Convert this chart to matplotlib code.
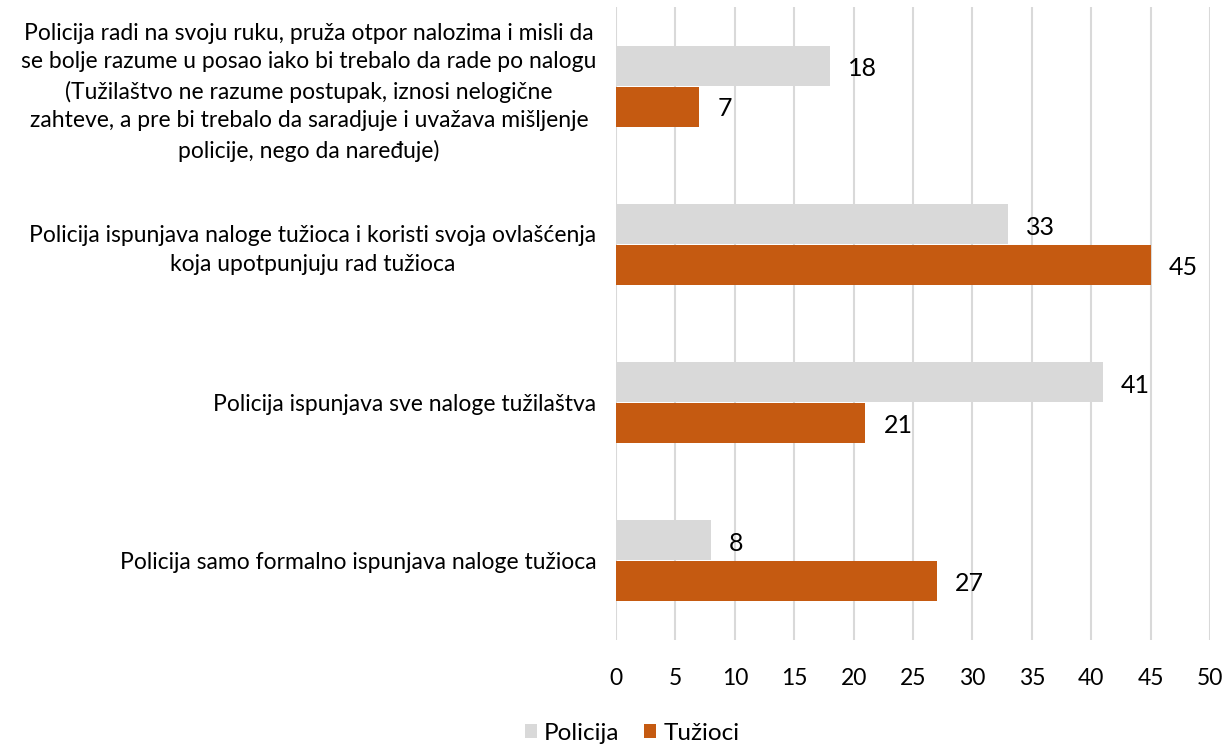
import numpy as np
import matplotlib.pyplot as plt

plt.rcParams['font.family'] = ['Lato', 'DejaVu Sans']

categories = [
    "Policija radi na svoju ruku, pruža otpor nalozima i misli da\n"
    "se bolje razume u posao iako bi trebalo da rade po nalogu\n"
    "(Tužilaštvo ne razume postupak, iznosi nelogične\n"
    "zahteve, a pre bi trebalo da saradjuje i uvažava mišljenje\n"
    "policije, nego da naređuje)",
    "Policija ispunjava naloge tužioca i koristi svoja ovlašćenja\n"
    "koja upotpunjuju rad tužioca",
    "Policija ispunjava sve naloge tužilaštva",
    "Policija samo formalno ispunjava naloge tužioca",
]
policija = [18, 33, 41, 8]
tuzioci = [7, 45, 21, 27]
series_names = ["Policija", "Tužioci"]
xticks = list(range(0, 55, 5))

gray = "#D9D9D9"
orange = "#C55A11"

fig = plt.figure(figsize=(12.28, 7.45), dpi=100)
ax = fig.add_axes([616 / 1228, 105 / 745, 594 / 1228, 633 / 745])

y = np.arange(len(categories))
h = 0.253
ax.barh(y - h / 2 - 0.003, policija, height=h, color=gray, label=series_names[0], zorder=3)
ax.barh(y + h / 2 + 0.003, tuzioci, height=h, color=orange, label=series_names[1], zorder=3)

for yi, v in zip(y - h / 2, policija):
    ax.annotate(str(v), (v, yi), xytext=(13, -2), textcoords='offset points',
                va='center', ha='left', fontsize=18)
for yi, v in zip(y + h / 2, tuzioci):
    ax.annotate(str(v), (v, yi), xytext=(13, -2), textcoords='offset points',
                va='center', ha='left', fontsize=18)

ax.set_xlim(0, 50)
ax.set_ylim(len(categories) - 0.5, -0.5)
ax.set_xticks(xticks)
ax.set_xticklabels([str(t) for t in xticks], fontsize=16.5)
ax.set_yticks(y)
ax.set_yticklabels(categories, fontsize=16.5, multialignment='center',
                   linespacing=1.45)
ax.tick_params(axis='both', length=0)
ax.tick_params(axis='x', pad=20)
ax.tick_params(axis='y', pad=14)
ax.grid(axis='x', color=gray, linewidth=1.5, zorder=0)
for s in ax.spines.values():
    s.set_visible(False)

fig.legend(loc='center', bbox_to_anchor=(632 / 1228, 1 - 733 / 745), ncol=2,
           frameon=False, fontsize=17.5, handlelength=0.5, handleheight=0.5,
           handletextpad=0.3, columnspacing=1.0)

fig.savefig("out.png", dpi=100)
